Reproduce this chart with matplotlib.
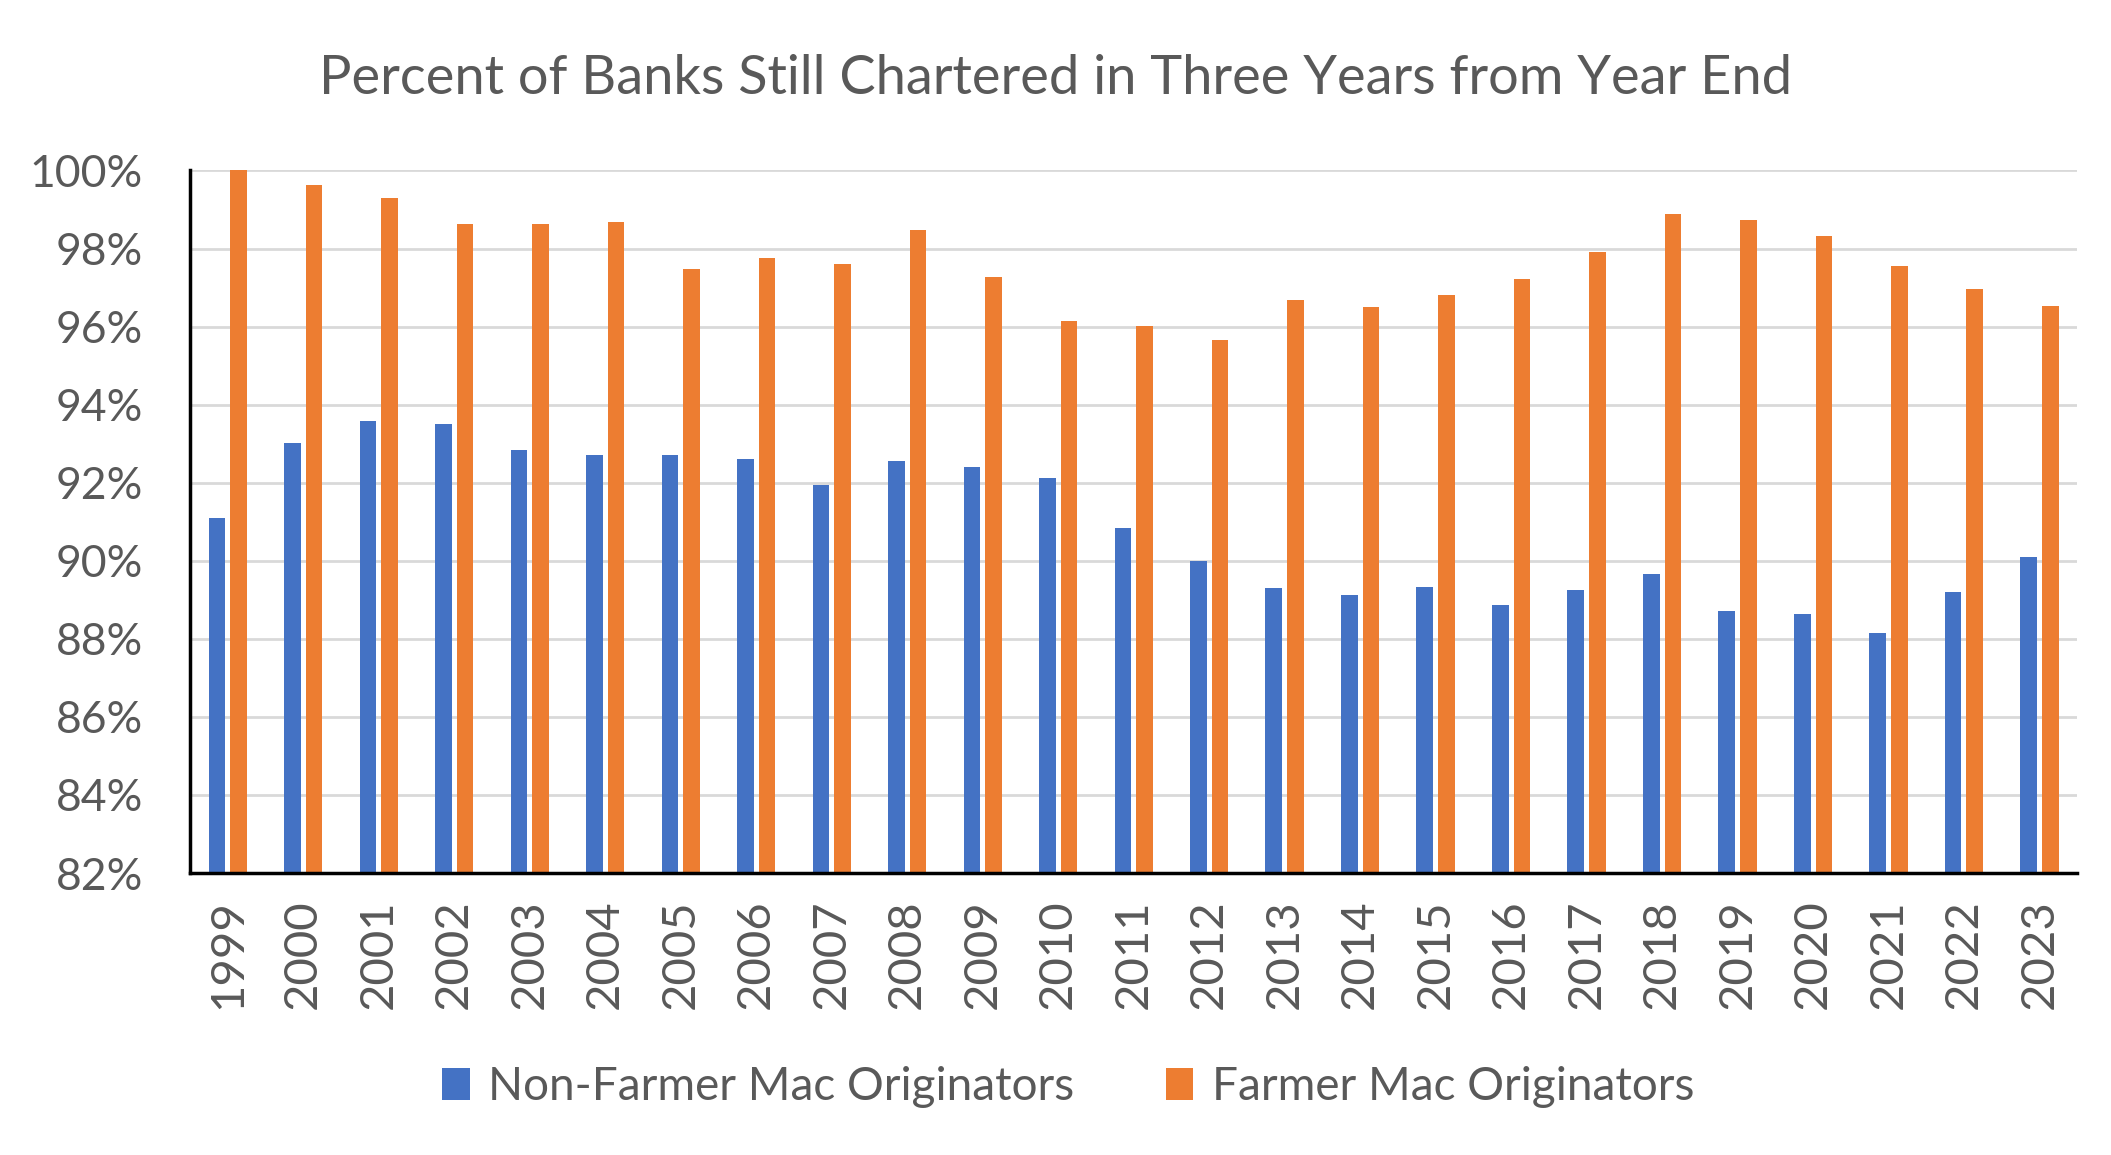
import numpy as np
import matplotlib.pyplot as plt
from matplotlib.ticker import PercentFormatter

years = [str(y) for y in range(1999, 2024)]
non_farmer_mac = [91.09, 93.03, 93.59, 93.51, 92.84, 92.72, 92.72, 92.60, 91.93,
                  92.55, 92.41, 92.11, 90.83, 89.99, 89.31, 89.12, 89.33, 88.88,
                  89.26, 89.67, 88.71, 88.64, 88.16, 89.20, 90.10]
farmer_mac = [100.0, 99.63, 99.30, 98.63, 98.63, 98.69, 97.47, 97.75, 97.61,
              98.48, 97.26, 96.14, 96.01, 95.65, 96.68, 96.50, 96.82, 97.21,
              97.90, 98.89, 98.74, 98.31, 97.56, 96.96, 96.53]

plt.rcParams['font.family'] = ['Lato', 'DejaVu Sans']
txt = '#595959'

fig = plt.figure(figsize=(21.11, 11.55), dpi=100)
ax = fig.add_axes([0.090, 0.2441, 0.894, 0.6083])

x = np.arange(len(years))
w = 0.22
ax.bar(x - 0.143, non_farmer_mac, w, color='#4472C4', label='Non-Farmer Mac Originators', zorder=3)
ax.bar(x + 0.143, farmer_mac, w, color='#ED7D31', label='Farmer Mac Originators', zorder=3)

ax.set_ylim(82, 100)
ax.set_xlim(-0.5, len(years) - 0.5)
ax.set_yticks(np.arange(82, 101, 2))
ax.yaxis.set_major_formatter(PercentFormatter(decimals=0))
ax.set_xticks(x)
ax.set_xticklabels(years, rotation=90)
ax.tick_params(axis='both', length=0, labelcolor=txt)
ax.tick_params(axis='x', pad=19, labelsize=34)
ax.tick_params(axis='y', pad=34, labelsize=32)

ax.grid(axis='y', color='#D9D9D9', linewidth=2, zorder=0)
for s in ['top', 'right']:
    ax.spines[s].set_visible(False)
for s in ['left', 'bottom']:
    ax.spines[s].set_linewidth(2.5)
    ax.spines[s].set_color('black')
    ax.spines[s].set_zorder(4)

fig.text(0.5, 0.932, 'Percent of Banks Still Chartered in Three Years from Year End',
         ha='center', va='center', fontsize=39, color=txt)

fig.legend(loc='center', bbox_to_anchor=(0.506, 0.059), ncol=2, frameon=False,
           fontsize=33, labelcolor=txt, handlelength=0.6, handleheight=0.7,
           handletextpad=0.4, columnspacing=2.0)

fig.savefig('out.png', dpi=100)
